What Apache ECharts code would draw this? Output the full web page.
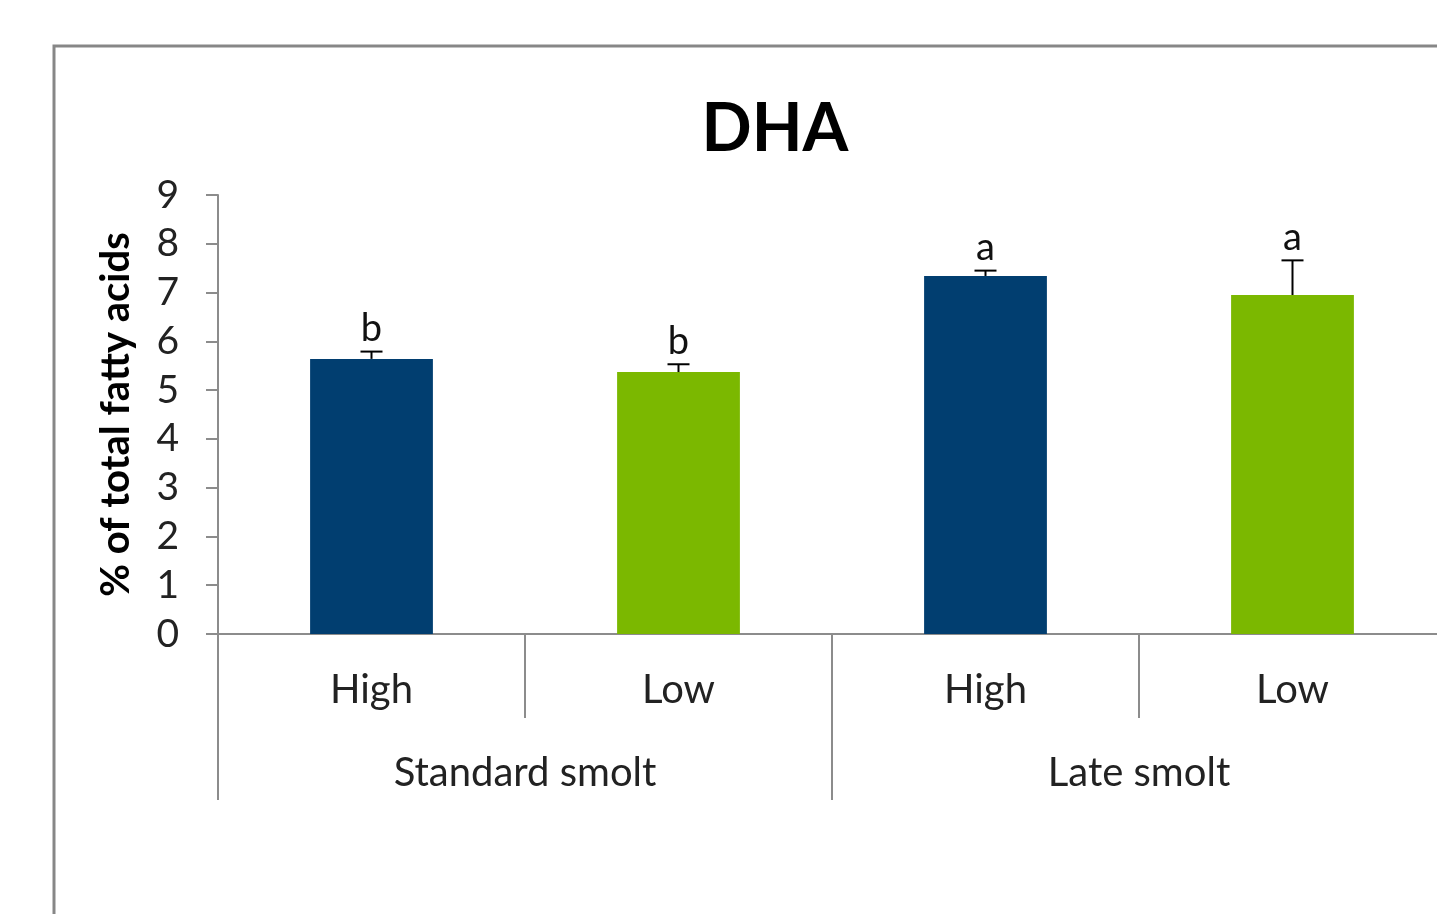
<!DOCTYPE html>
<html>
<head>
<meta charset="utf-8">
<script src="https://cdn.jsdelivr.net/npm/echarts@6/dist/echarts.min.js"></script>
<style>
html,body{margin:0;padding:0;background:#fff;overflow:hidden;width:1437px;height:914px;}
#c{width:1460px;height:914px;}
</style>
</head>
<body>
<div id="c"></div>
<script>
const titleText = 'DHA';
const yAxisName = '% of total fatty acids';
const dietLabels = ['High', 'Low', 'High', 'Low'];
const groupLabels = ['Standard smolt', 'Late smolt'];
const means = [5.64, 5.37, 7.34, 6.95];
const errUpper = [5.79, 5.53, 7.45, 7.66];
const sigLetters = ['b', 'b', 'a', 'a'];
const yTicks = [0, 1, 2, 3, 4, 5, 6, 7, 8, 9];

const NAVY = '#013E70';
const GREEN = '#7BB800';
const FONT = 'Lato, "Open Sans", sans-serif';

const chart = echarts.init(document.getElementById('c'));

const errData = means.map((m, i) => [i, m, errUpper[i], sigLetters[i]]);

chart.setOption({
  animation: false,
  backgroundColor: '#fff',
  graphic: [
    {type: 'rect', shape: {x: 54, y: 46, width: 1500, height: 1000},
     style: {fill: 'none', stroke: '#878787', lineWidth: 3}, z: -1},
    {type: 'text', x: 775, y: 130,
     style: {text: titleText, fill: '#000', font: 'bold 66px ' + FONT,
             textAlign: 'center', textVerticalAlign: 'middle'}}
  ],
  grid: {left: 218, right: 14, top: 195, bottom: 280, containLabel: false},
  xAxis: [
    {
      type: 'category', data: dietLabels, position: 'bottom',
      axisLine: {show: true, lineStyle: {color: '#8c8c8c', width: 2}},
      axisTick: {show: true, length: 84, lineStyle: {color: '#8c8c8c', width: 2}},
      axisLabel: {color: '#222', fontSize: 40, fontFamily: FONT, margin: 36},
      splitLine: {show: false}
    },
    {
      type: 'category', data: groupLabels, position: 'bottom',
      axisLine: {show: false},
      axisTick: {show: true, length: 166, lineStyle: {color: '#8c8c8c', width: 2}},
      axisLabel: {color: '#222', fontSize: 40, fontFamily: FONT, margin: 119},
      splitLine: {show: false}
    }
  ],
  yAxis: {
    type: 'value', min: yTicks[0], max: yTicks[yTicks.length - 1], interval: 1,
    name: yAxisName, nameLocation: 'middle', nameGap: 82, nameRotate: 90,
    nameTextStyle: {color: '#000', fontSize: 40, fontWeight: 'bold', fontFamily: FONT},
    axisLine: {show: true, lineStyle: {color: '#8c8c8c', width: 2}},
    axisTick: {show: true, length: 12, inside: false, lineStyle: {color: '#8c8c8c', width: 2}},
    axisLabel: {color: '#222', fontSize: 39, fontFamily: FONT, margin: 39},
    splitLine: {show: false}
  },
  series: [
    {
      type: 'bar', xAxisIndex: 0, data: means, barWidth: '40%',
      itemStyle: {color: p => (p.dataIndex % 2 === 0 ? NAVY : GREEN)},
      z: 2
    },
    {
      type: 'custom', xAxisIndex: 0, data: errData, z: 3,
      renderItem: function (params, api) {
        const x = api.value(0);
        const base = api.coord([x, api.value(1)]);
        const top = api.coord([x, api.value(2)]);
        const cap = 11;
        return {
          type: 'group',
          children: [
            {type: 'line', shape: {x1: base[0], y1: base[1], x2: top[0], y2: top[1]},
             style: {stroke: '#000', lineWidth: 2}},
            {type: 'line', shape: {x1: top[0] - cap, y1: top[1], x2: top[0] + cap, y2: top[1]},
             style: {stroke: '#000', lineWidth: 2}},
            {type: 'text', x: top[0], y: top[1] - 4,
             style: {text: api.value(3), fill: '#111', font: '38px ' + FONT,
                     textAlign: 'center', textVerticalAlign: 'bottom'}}
          ]
        };
      }
    }
  ]
});
</script>
</body>
</html>
